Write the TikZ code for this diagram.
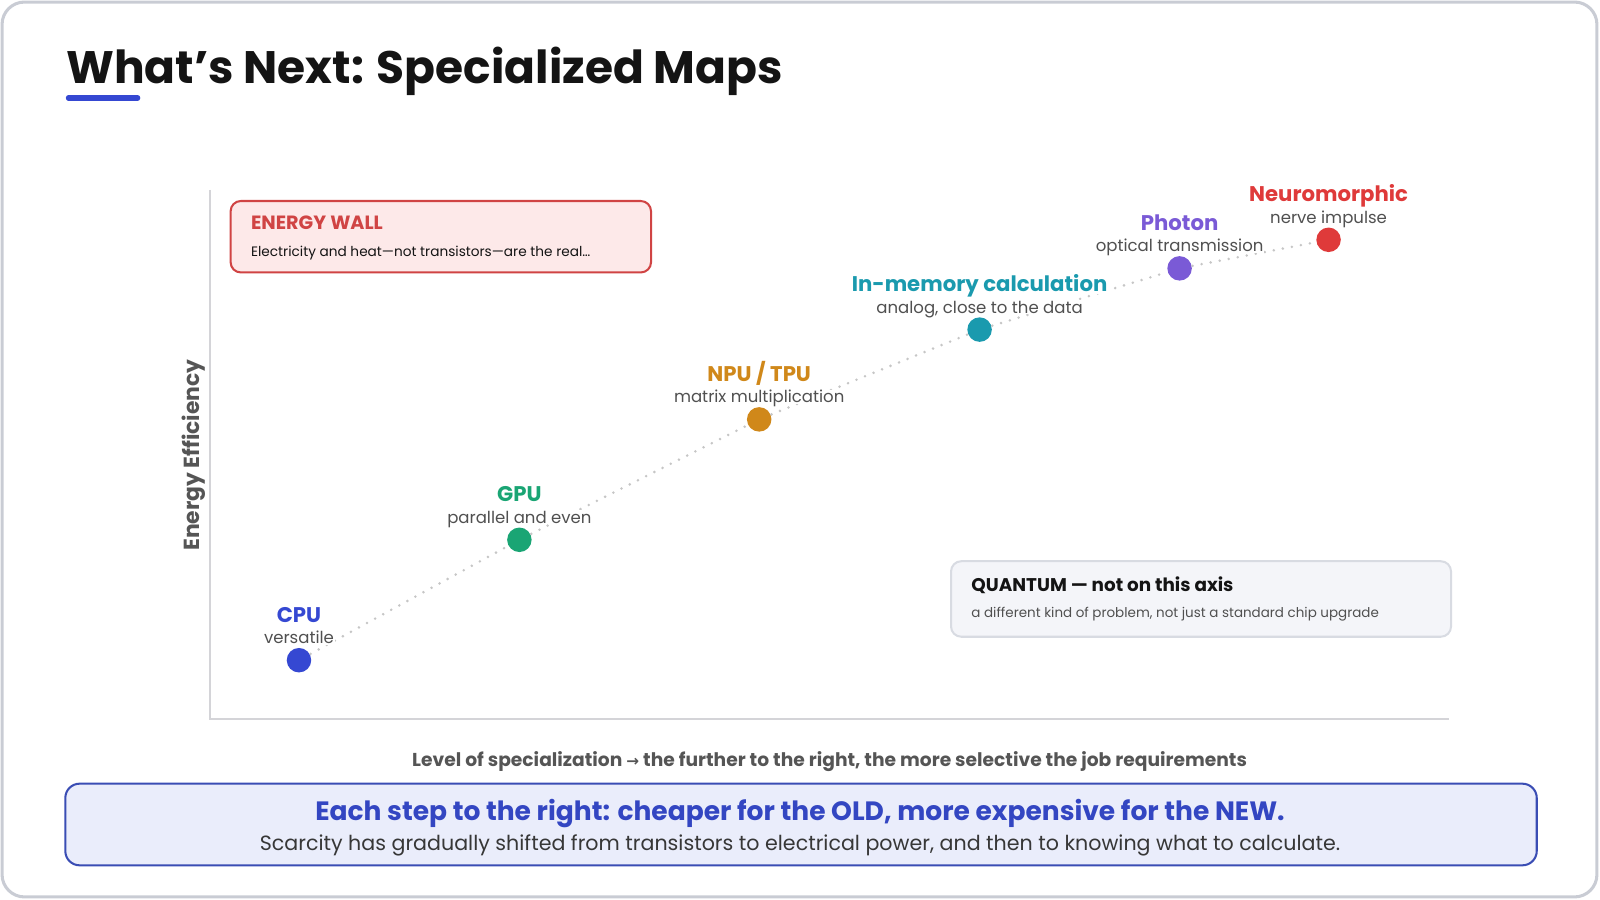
\documentclass[tikz,border=0pt]{standalone}
\usepackage{fontspec}
\setmainfont{Poppins}
\newfontfamily\arrowfont{DejaVu Sans}
\usetikzlibrary{positioning}
\definecolor{framegray}{HTML}{C9CCD4}
\definecolor{axisgray}{HTML}{D4D4D8}
\definecolor{labelgray}{HTML}{555555}
\definecolor{notegray}{HTML}{505050}
\definecolor{inkblack}{HTML}{141414}
\definecolor{cpublue}{HTML}{3548D2}
\definecolor{gpugreen}{HTML}{1AA574}
\definecolor{npugold}{HTML}{D0881A}
\definecolor{imcteal}{HTML}{1A9AAE}
\definecolor{photonviolet}{HTML}{7A5AD6}
\definecolor{neurored}{HTML}{DF3A3A}
\definecolor{wallred}{HTML}{D04444}
\definecolor{wallfill}{HTML}{FDE9E9}
\definecolor{quantumfill}{HTML}{F4F5F9}
\definecolor{quantumline}{HTML}{D8DBE2}
\definecolor{summaryfill}{HTML}{EAEDFB}
\definecolor{summaryline}{HTML}{3A4DB4}
\definecolor{summaryink}{HTML}{3346C2}
\tikzset{chip/.style={
    circle,minimum size=12pt,inner sep=0pt}}
\tikzset{chipname/.style={
    inner sep=0.5pt,fill=white,text height=7.6pt,text depth=0.6pt,
    font=\fontsize{10.4}{12}\selectfont\bfseries}}
\tikzset{chipnote/.style={
    inner sep=0.5pt,fill=white,text=notegray,text height=6pt,text depth=0pt,
    font=\fontsize{8.1}{9}\selectfont}}
\tikzset{panel/.style={
    rectangle,rounded corners=5pt,line width=1pt,anchor=north west}}
\tikzset{every picture/.style={line width=1pt}}

\begin{document}
\begin{tikzpicture}[x=0.5pt,y=-0.5pt,node distance=2pt]
  \useasboundingbox (0,0) rectangle (1568,882);
  \draw [framegray,line width=1.5pt,rounded corners=11pt] (2,2) rectangle (1565,879);

  \node (title) [anchor=base west,inner sep=0pt,text=inkblack,font=\fontsize{22.3}{26}\selectfont\bfseries] at (64,82) {What{\char"0027}s Next: Specialized Maps};
  \draw [cpublue,line width=2.5pt,line cap=round] (67,96) -- (135,96);

  \coordinate (ytop) at (206,186);
  \coordinate (origin) at (206,705);
  \coordinate (xend) at (1420,705);
  \draw [axisgray] (ytop) -- (origin) -- (xend);

  \node (ylabel) [rotate=90,inner sep=0pt,text=labelgray,font=\fontsize{10.7}{12}\selectfont\bfseries] at (190,446) {Energy Efficiency};
  \node (xlabel) [anchor=base,inner sep=0pt,text=labelgray,font=\fontsize{9.15}{11}\selectfont\bfseries] at (813,751) {Level of specialization {\arrowfont\fontsize{7.5}{8}\selectfont →} the further to the right, the more selective the job requirements};

  \node (wall) [panel,draw=wallred,fill=wallfill,minimum width=206pt,minimum height=35pt] at (225,196) {};
  \node (walltitle) [anchor=base west,inner sep=0pt,text=wallred,font=\fontsize{9.4}{11}\selectfont\bfseries] at (245,225) {ENERGY WALL};
  \node (walltext) [anchor=base west,inner sep=0pt,text=inkblack,font=\fontsize{6.7}{8}\selectfont] at (245,251) {Electricity and heat—not transistors—are the real…};

  \node (quantum) [panel,draw=quantumline,fill=quantumfill,minimum width=245pt,minimum height=37pt] at (931,549) {};
  \node (quantumtitle) [anchor=base west,inner sep=0pt,text=inkblack,font=\fontsize{9}{11}\selectfont\bfseries] at (951,580) {QUANTUM — not on this axis};
  \node (quantumtext) [anchor=base west,inner sep=0pt,text=notegray,font=\fontsize{6.6}{8}\selectfont] at (951,605) {a different kind of problem, not just a standard chip upgrade};

  \node (cpu)    [chip,fill=cpublue]      at (293,647) {};
  \node (gpu)    [chip,fill=gpugreen]     at (509,529) {};
  \node (npu)    [chip,fill=npugold]      at (744,411) {};
  \node (imc)    [chip,fill=imcteal]      at (960,323) {};
  \node (photon) [chip,fill=photonviolet] at (1156,263) {};
  \node (neuro)  [chip,fill=neurored]     at (1302,235) {};

  \draw [gray!45,line width=1.4pt,line cap=round,dash pattern=on 0pt off 4.5pt] (cpu) -- (gpu) -- (npu) -- (imc) -- (photon) -- (neuro);

  \node (cpunote)    [chipnote,above=0.6pt of cpu]    {versatile};
  \node (cpuname)    [chipname,text=cpublue,above=of cpunote]         {CPU};
  \node (gpunote)    [chipnote,above=0.6pt of gpu]    {parallel and even};
  \node (gpuname)    [chipname,text=gpugreen,above=of gpunote]        {GPU};
  \node (npunote)    [chipnote,above=0.6pt of npu]    {matrix multiplication};
  \node (npuname)    [chipname,text=npugold,above=of npunote]         {NPU / TPU};
  \node (imcnote)    [chipnote,above=0.6pt of imc]    {analog, close to the data};
  \node (imcname)    [chipname,text=imcteal,above=of imcnote]         {In-memory calculation};
  \node (photonnote) [chipnote,above=0.6pt of photon] {optical transmission};
  \node (photonname) [chipname,text=photonviolet,above=of photonnote] {Photon};
  \node (neuronote)  [chipnote,above=0.6pt of neuro]  {nerve impulse};
  \node (neuroname)  [chipname,text=neurored,above=of neuronote]      {Neuromorphic};

  \node (summary) [panel,draw=summaryline,fill=summaryfill,rounded corners=7pt,minimum width=721pt,minimum height=40pt] at (63,767) {};
  \node (summaryhead) [anchor=base,inner sep=0pt,text=summaryink,font=\fontsize{13}{15}\selectfont\bfseries] at (784,804) {Each step to the right: cheaper for the OLD, more expensive for the NEW.};
  \node (summarytext) [anchor=base,inner sep=0pt,text=inkblack!85,font=\fontsize{10.1}{12}\selectfont] at (784,833) {Scarcity has gradually shifted from transistors to electrical power, and then to knowing what to calculate.};
\end{tikzpicture}
\end{document}
